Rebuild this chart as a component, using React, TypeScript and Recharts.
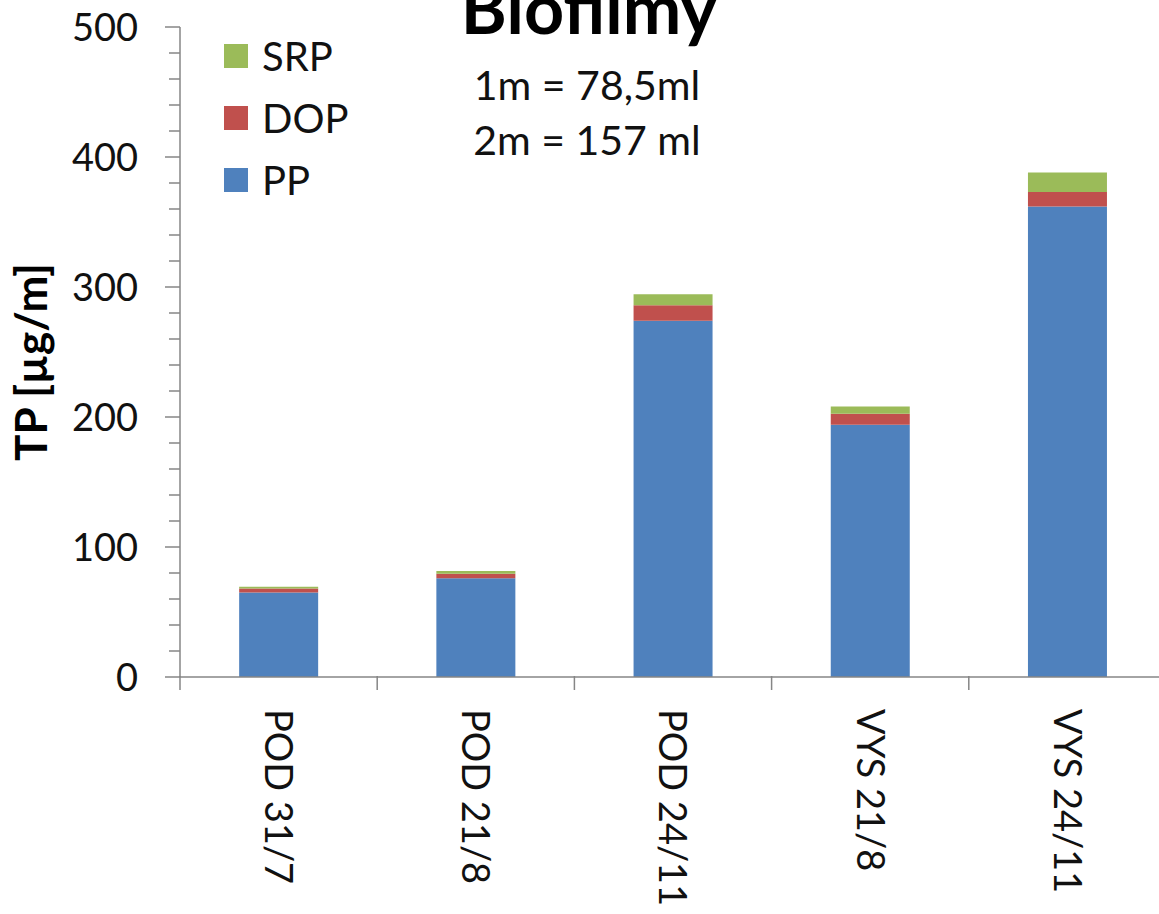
import { Bar, BarChart, Legend, XAxis, YAxis } from "recharts";

const categories = ["POD 31/7", "POD 21/8", "POD 24/11", "VYS 21/8", "VYS 24/11"];
const ppValues = [65, 76, 274, 194, 362];
const dopValues = [3, 3.5, 12, 8.5, 11];
const srpValues = [1.5, 2, 8.5, 5.5, 15];
const legendOrder = ["SRP", "DOP", "PP"];
const yTicks = [
  0, 20, 40, 60, 80, 100, 120, 140, 160, 180, 200, 220, 240, 260, 280, 300,
  320, 340, 360, 380, 400, 420, 440, 460, 480, 500,
];

const data = categories.map((name, i) => ({
  name,
  PP: ppValues[i],
  DOP: dopValues[i],
  SRP: srpValues[i],
}));

const FONT = "Lato, 'Open Sans', sans-serif";
const AXIS = "#868686";
const WIDTH = 1159;
const HEIGHT = 914;

function YTick(props: any) {
  const { x, y, payload } = props;
  const major = payload.value % 100 === 0;
  // text anchor sits tickSize (15) + tickMargin (27) left of the axis line
  return (
    <g>
      <line x1={x + (major ? 27 : 31)} x2={x + 42} y1={y} y2={y} stroke={AXIS} strokeWidth={1.5} />
      {major && (
        <text x={x} y={y} dy="0.36em" textAnchor="end" fontSize={38} fontFamily={FONT} fill="#111">
          {payload.value}
        </text>
      )}
    </g>
  );
}

function XTick(props: any) {
  const { x, y, payload, index, visibleTicksCount, width } = props;
  const half =
    payload.offset ?? (width && visibleTicksCount ? width / visibleTicksCount / 2 : 98);
  const last = index === (visibleTicksCount ?? categories.length) - 1;
  return (
    <g>
      <line x1={x - half} x2={x - half} y1={y - 33} y2={y - 19} stroke={AXIS} strokeWidth={1.5} />
      {last && (
        <line x1={x + half} x2={x + half} y1={y - 33} y2={y - 19} stroke={AXIS} strokeWidth={1.5} />
      )}
      <text
        x={x}
        y={y}
        dy="0.36em"
        textAnchor="start"
        transform={`rotate(90, ${x}, ${y})`}
        fontSize={38}
        fontFamily={FONT}
        fill="#111"
      >
        {payload.value}
      </text>
    </g>
  );
}

function renderLegend(props: any) {
  const items = [...(props.payload ?? [])].sort(
    (a: any, b: any) => legendOrder.indexOf(a.value) - legendOrder.indexOf(b.value)
  );
  return (
    <div>
      {items.map((entry: any) => (
        <div key={entry.value} style={{ display: "flex", alignItems: "center", height: 62 }}>
          <span style={{ width: 24, height: 24, background: entry.color, marginRight: 14 }} />
          <span style={{ fontSize: 40, fontFamily: FONT, color: "#111", lineHeight: 1 }}>
            {entry.value}
          </span>
        </div>
      ))}
    </div>
  );
}

export default function App() {
  return (
    <div style={{ position: "absolute", left: 0, top: 0, width: WIDTH, height: HEIGHT, background: "#fff" }}>
      <BarChart
        width={WIDTH}
        height={HEIGHT}
        data={data}
        margin={{ top: 27, right: -7, bottom: 0, left: 0 }}
        barCategoryGap="30%"
      >
        <XAxis
          dataKey="name"
          interval={0}
          tickLine={false}
          tickSize={14}
          tickMargin={18}
          tick={<XTick />}
          axisLine={{ stroke: AXIS, strokeWidth: 1.5 }}
          height={237}
        />
        <YAxis
          type="number"
          domain={[0, 500]}
          ticks={yTicks}
          interval={0}
          width={180}
          tickLine={false}
          tickSize={15}
          tickMargin={27}
          tick={<YTick />}
          axisLine={{ stroke: AXIS, strokeWidth: 1.5 }}
        />
        <Legend
          layout="vertical"
          align="center"
          verticalAlign="middle"
          content={renderLegend}
          wrapperStyle={{ left: 224, top: 25, width: 200, height: 186 }}
        />
        <Bar dataKey="PP" stackId="a" fill="#4F81BD" isAnimationActive={false} />
        <Bar dataKey="DOP" stackId="a" fill="#C0504D" isAnimationActive={false} />
        <Bar dataKey="SRP" stackId="a" fill="#9BBB59" isAnimationActive={false} />
      </BarChart>
      <svg
        width={WIDTH}
        height={HEIGHT}
        style={{ position: "absolute", left: 0, top: 0, pointerEvents: "none" }}
      >
        <text x={589} y={34} textAnchor="middle" fontSize={70} fontWeight={700} fontFamily={FONT} fill="#000">
          Biofilmy
        </text>
        <text x={587} y={100} textAnchor="middle" fontSize={41} fontFamily={FONT} fill="#111">
          1m = 78,5ml
        </text>
        <text x={587} y={155} textAnchor="middle" fontSize={41} fontFamily={FONT} fill="#111">
          2m = 157 ml
        </text>
        <text
          x={47}
          y={362}
          textAnchor="middle"
          transform="rotate(-90, 47, 362)"
          fontSize={44}
          fontWeight={700}
          fontFamily={FONT}
          fill="#000"
        >
          TP [µg/m]
        </text>
      </svg>
    </div>
  );
}
